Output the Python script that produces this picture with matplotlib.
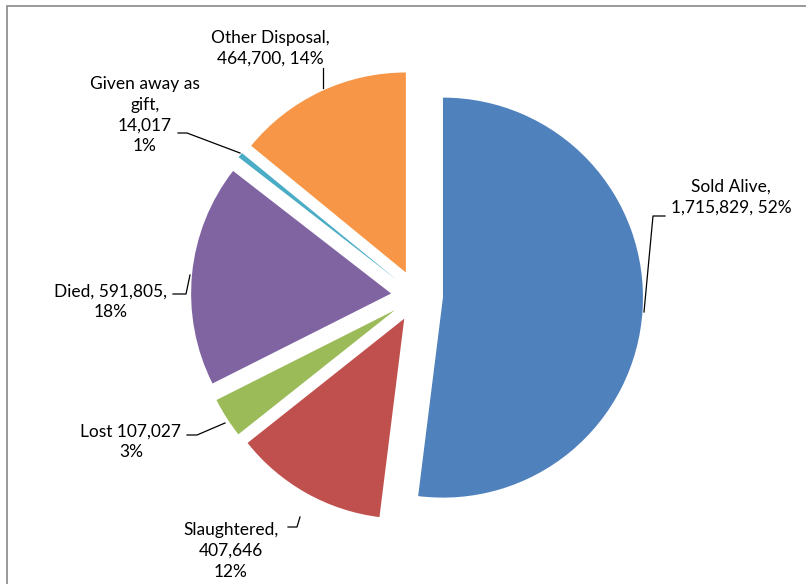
import matplotlib.pyplot as plt
from matplotlib.patches import Rectangle

# data
categories = ['Sold Alive', 'Slaughtered', 'Lost', 'Died', 'Given away as gift', 'Other Disposal']
values = [1715829, 407646, 107027, 591805, 14017, 464700]
colors = ['#4F81BD', '#C0504D', '#9BBB59', '#8064A2', '#4BACC6', '#F79646']
labels = ['Sold Alive,\n1,715,829, 52%',
          'Slaughtered,\n407,646\n12%',
          'Lost 107,027\n3%',
          'Died, 591,805,\n18%',
          'Given away as\ngift,\n14,017\n1%',
          'Other Disposal,\n464,700, 14%']

W, H = 806, 584
plt.rcParams['font.family'] = ['Lato', 'DejaVu Sans']

fig = plt.figure(figsize=(W / 100, H / 100), dpi=100)
ax = fig.add_axes([0, 0, 1, 1])

# outer chart frame (top and left visible)
fig.patches.append(Rectangle((7 / W, -0.1), 1.2, (H - 6) / H + 0.1, transform=fig.transFigure,
                             fill=False, edgecolor='#898989', linewidth=1.2))

# explode is in data units here (radius = 200 px)
ax.pie(values, colors=colors, startangle=90, counterclock=False,
       explode=[26] * len(values), radius=200, center=(417, H - 296),
       wedgeprops=dict(linewidth=0), frame=True)
ax.set_xlim(0, W)
ax.set_ylim(0, H)
ax.axis('off')


def Y(y):
    return H - y


# label text positions (image pixels) and leader lines
text_pos = [(731, 197), (231, 551), (131, 442), (111, 302), (145, 115), (270, 48)]
leaders = [
    [(665, 216), (653, 216), (644, 312)],
    [(288, 527), (297, 527), (300, 517)],
    [(187, 435), (197, 435), (225, 423)],
    [(173, 294), (186, 294), (190, 275)],
    [(178, 133), (187, 133), (240, 153)],
    [(323, 68), (323, 88)],
]

for lab, (tx, ty), pts in zip(labels, text_pos, leaders):
    ax.text(tx, Y(ty), lab, ha='center', va='center', multialignment='center',
            fontsize=12.5, color='black', linespacing=1.38)
    ax.plot([p[0] for p in pts], [Y(p[1]) for p in pts], color='black', linewidth=0.9)

fig.savefig('out.png', dpi=100)
